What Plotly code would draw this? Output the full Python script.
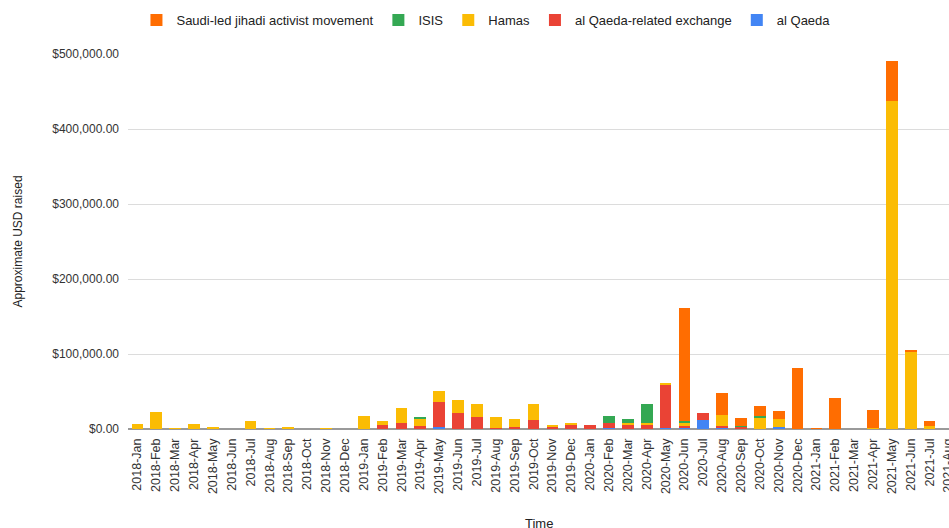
import plotly.graph_objects as go

months = ["2018-Jan","2018-Feb","2018-Mar","2018-Apr","2018-May","2018-Jun","2018-Jul","2018-Aug","2018-Sep","2018-Oct","2018-Nov","2018-Dec",
          "2019-Jan","2019-Feb","2019-Mar","2019-Apr","2019-May","2019-Jun","2019-Jul","2019-Aug","2019-Sep","2019-Oct","2019-Nov","2019-Dec",
          "2020-Jan","2020-Feb","2020-Mar","2020-Apr","2020-May","2020-Jun","2020-Jul","2020-Aug","2020-Sep","2020-Oct","2020-Nov","2020-Dec",
          "2021-Jan","2021-Feb","2021-Mar","2021-Apr","2021-May","2021-Jun","2021-Jul","2021-Aug"]

al_qaeda = [0,0,0,0,0,0,0,0,0,0,0,0,
            600,0,0,0,2500,0,0,0,0,0,0,0,
            500,800,0,0,700,1000,11600,800,0,0,2200,0,
            0,0,0,0,0,0,500,0]
al_qaeda_exchange = [0,0,0,0,0,0,0,0,0,0,0,0,
                     0,5700,7500,4000,33000,22000,16000,1800,2700,11400,3500,6000,
                     4300,7200,6500,6500,57800,3400,9300,2800,2700,0,0,0,
                     0,0,0,0,0,0,0,0]
hamas = [6500,23000,1000,6500,2500,0,11000,1000,2200,0,1000,0,
         16200,5300,20000,10200,15000,17000,17700,14200,10600,22300,1800,1400,
         0,0,1800,1800,3500,3000,0,15000,0,14200,11100,0,
         0,0,0,1800,438000,103500,3000,0]
isis = [0,0,0,0,0,0,0,0,0,0,0,0,
        0,0,0,2200,0,0,0,0,0,0,0,0,
        0,8800,5000,25700,0,2800,0,0,1000,2700,0,0,
        0,0,0,0,0,0,0,0]
saudi = [0,0,0,0,0,0,0,0,0,0,0,0,
         0,0,0,0,0,0,0,0,0,0,0,0,
         0,0,0,0,0,150800,0,28900,10500,13700,11100,81000,
         1000,41200,0,24200,53000,1000,7500,0]

y_ticks = [0, 100000, 200000, 300000, 400000, 500000]

series = [
    ("al Qaeda", al_qaeda, "#4285F4"),
    ("al Qaeda-related exchange", al_qaeda_exchange, "#EA4335"),
    ("Hamas", hamas, "#FBBC04"),
    ("ISIS", isis, "#34A853"),
    ("Saudi-led jihadi activist movement", saudi, "#FF6D01"),
]

FONT = "Arial, 'Liberation Sans', sans-serif"

fig = go.Figure()
for name, vals, color in series:
    fig.add_trace(go.Bar(x=months, y=vals, name=name, marker=dict(color=color, line=dict(width=0))))

W, H = 949, 528
L, T, B = 128, 54, 99

fig.update_layout(
    width=W, height=H,
    barmode="stack", bargap=0.38,
    plot_bgcolor="white", paper_bgcolor="white",
    margin=dict(l=L, r=0, t=T, b=B, pad=0),
    font=dict(family=FONT, size=12, color="#333333"),
    showlegend=True,
    legend=dict(orientation="h", traceorder="reversed", x=0.436, xanchor="center",
                y=1.0907, yanchor="middle", font=dict(size=13, color="#222222"),
                itemwidth=30, bgcolor="rgba(0,0,0,0)"),
    xaxis=dict(type="category", range=[-0.5, 43.03], tickangle=-90,
               tickfont=dict(size=12.5, color="#333333"), showgrid=False,
               showline=False, ticks="", ticklabelstandoff=6, automargin=False),
    yaxis=dict(range=[0, 500000], tickvals=y_ticks, tickformat="$,.2f",
               tickfont=dict(size=12, color="#333333"),
               showgrid=True, gridcolor="#dcdcdc", gridwidth=1,
               zeroline=True, zerolinecolor="#9a9a9a", zerolinewidth=2,
               showline=False, ticks="", ticklabelstandoff=8, automargin=False),
    annotations=[
        dict(text="Approximate USD raised", xref="paper", yref="paper",
             x=-(L - 17) / (W - L), y=0.5, xanchor="center", yanchor="middle",
             textangle=-90, showarrow=False, font=dict(size=12, color="#222222")),
        dict(text="Time", xref="paper", yref="paper",
             x=0.5, y=-(523 - (H - B)) / (H - T - B), xanchor="center", yanchor="middle",
             showarrow=False, font=dict(size=13, color="#222222")),
    ],
)

fig.write_html("out.html")
